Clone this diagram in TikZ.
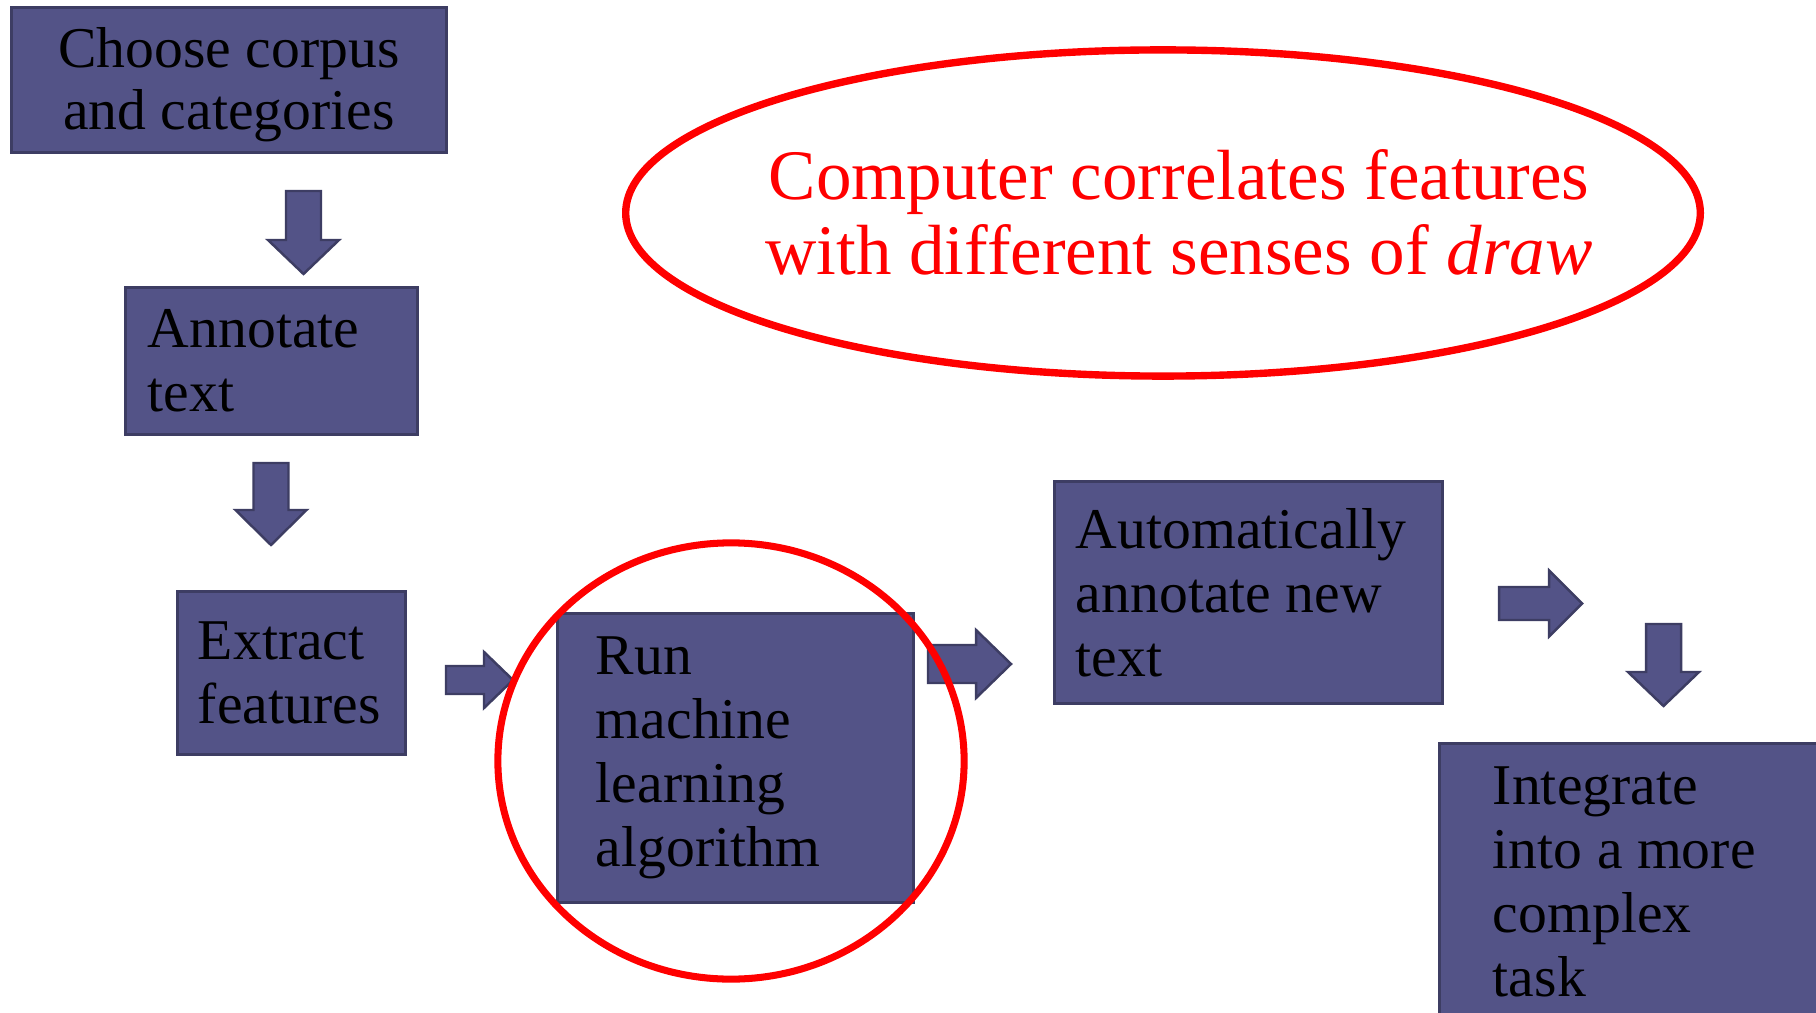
\documentclass[tikz,border=0pt]{standalone}
\usepackage{fontspec}
\setmainfont{Liberation Serif}
\usetikzlibrary{shapes.geometric}
\definecolor{boxfill}{RGB}{83,83,135}
\definecolor{boxline}{RGB}{61,61,99}
\definecolor{hlred}{RGB}{255,0,0}
\tikzset{
  stepbox/.style={draw=boxline, fill=boxfill, line width=0.85pt, inner sep=0pt,
    align=flush left, text=black, font=\fontsize{16.4pt}{18.2pt}\selectfont},
  blockarrow/.style={draw=boxline, fill=boxfill, line width=0.7pt, line join=miter},
  ring/.style={draw=hlred, ellipse, inner sep=0pt}
}
\newcommand\blockdown[4]{\draw[blockarrow] ({#1-17.5},#2) -- ({#1+17.5},#2) -- ({#1+17.5},#3) -- ({#1+35.5},#3) -- (#1,#4) -- ({#1-35.5},#3) -- ({#1-17.5},#3) -- cycle;}
\newcommand\blockright[6]{\draw[blockarrow] (#2,{#1-#5}) -- (#3,{#1-#5}) -- (#3,{#1-#6}) -- (#4,#1) -- (#3,{#1+#6}) -- (#3,{#1+#5}) -- (#2,{#1+#5}) -- cycle;}
\begin{document}
\begin{tikzpicture}[x=0.01cm,y=-0.01cm]
\useasboundingbox (0,0) rectangle (1816,1013);
\fill[white] (0,0) rectangle (1816,1013);

% boxes
\node[stepbox, align=flush center, text width=4.0cm, minimum width=4.34cm, minimum height=1.44cm,
  font=\fontsize{16.4pt}{17.6pt}\selectfont] (choose) at (229,80) {\rule{0pt}{14pt}Choose corpus\\and categories};
\node[stepbox, text width=2.47cm, minimum width=2.91cm, minimum height=1.46cm] (annot) at (271.5,361) {Annotate\\text};
\node[stepbox, text width=1.87cm, minimum width=2.27cm, minimum height=1.62cm] (extract) at (291.5,673) {Extract\\features};
\node[stepbox, text width=2.79cm, minimum width=3.55cm, minimum height=2.88cm] (run) at (735.5,758) {Run\\machine\\learning\\algorithm};
\node[stepbox, text width=3.45cm, minimum width=3.87cm, minimum height=2.21cm] (auto) at (1248.5,592.5) {Automatically\\annotate new\\text};
\node[stepbox, text width=2.94cm, minimum width=4.0cm, minimum height=2.76cm] (integ) at (1640,882) {Integrate\\into a more\\complex\\task};

% block arrows
\blockdown{303.5}{191}{240}{274}
\blockdown{271}{463}{510}{545}
\blockdown{1663.5}{624}{672}{706}
\blockright{680}{446}{484}{513}{14}{28}
\blockright{664}{928}{976}{1011}{19}{34}
\blockright{603.5}{1499}{1549}{1582}{16.5}{33}

% red highlights
\node[ring, line width=2.1pt, minimum width=10.74cm, minimum height=3.26cm] (bigring) at (1163,213) {};
\node[text=hlred, inner sep=0pt, align=flush center, font=\fontsize{20.2pt}{21.4pt}\selectfont] (note) at (1179,212) {Computer correlates features\\with different senses of \textit{draw}};
\node[ring, line width=2pt, minimum width=4.66cm, minimum height=4.36cm] (focus) at (731,761) {};
\end{tikzpicture}
\end{document}
